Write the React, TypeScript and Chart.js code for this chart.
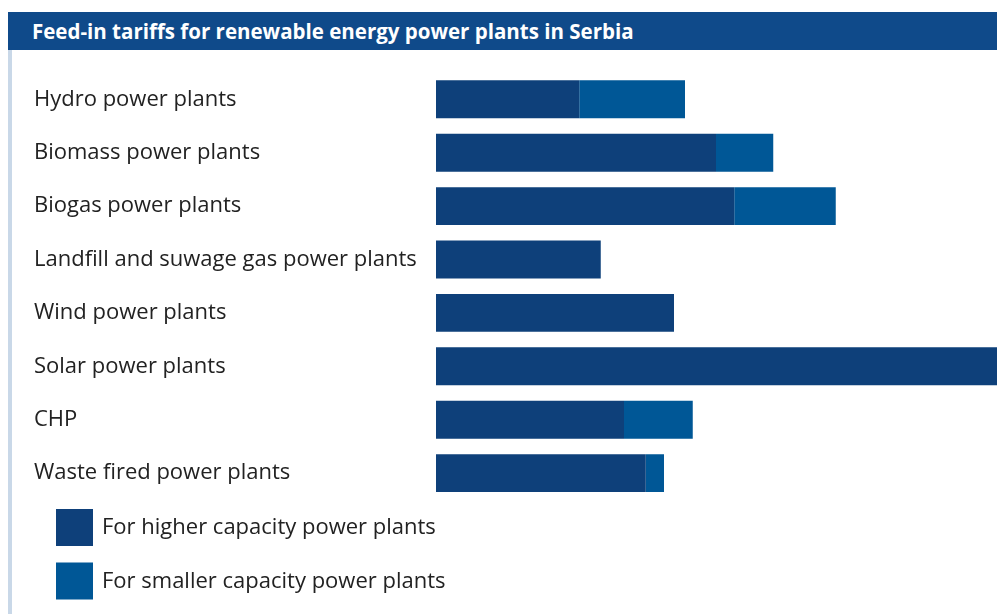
import React, { useEffect, useRef } from "react";
import { Chart, registerables } from "chart.js";

Chart.register(...registerables);

const chartTitle = "Feed-in tariffs for renewable energy power plants in Serbia";
const categories = [
  "Hydro power plants",
  "Biomass power plants",
  "Biogas power plants",
  "Landfill and suwage gas power plants",
  "Wind power plants",
  "Solar power plants",
  "CHP",
  "Waste fired power plants",
];
const seriesLabels = ["For higher capacity power plants", "For smaller capacity power plants"];
// tariff for higher capacity plants
const higherCapacity = [5.73, 11.2, 11.93, 6.59, 9.52, 23, 7.52, 8.39];
// additional amount for smaller capacity plants (stacked on top)
const smallerCapacityExtra = [4.23, 2.29, 4.06, 0, 0, 0, 2.75, 0.73];
const axisMax = 22.44;

const DARK = "#0e407a";
const LIGHT = "#005796";
const FONT = "'Open Sans', sans-serif";
const TEXT = "#222222";

const legendPlugin = {
  id: "stackedLegend",
  afterDraw(chart: any) {
    const ctx = chart.ctx;
    ctx.save();
    chart.data.datasets.forEach((ds: any, i: number) => {
      const y = 509 + i * 53.5;
      ctx.fillStyle = ds.backgroundColor;
      ctx.fillRect(56, y, 37, 37);
      ctx.fillStyle = TEXT;
      ctx.font = `22px ${FONT}`;
      ctx.textBaseline = "middle";
      ctx.textAlign = "left";
      ctx.fillText(ds.label, 102, y + 19);
    });
    ctx.restore();
  },
};

export default function App() {
  const ref = useRef<HTMLCanvasElement | null>(null);

  useEffect(() => {
    document.body.style.margin = "0";
    const chart = new Chart(ref.current as HTMLCanvasElement, {
      type: "bar",
      data: {
        labels: categories,
        datasets: [
          { label: seriesLabels[0], data: higherCapacity, backgroundColor: DARK, borderWidth: 0 },
          { label: seriesLabels[1], data: smallerCapacityExtra, backgroundColor: LIGHT, borderWidth: 0 },
        ],
      },
      options: {
        indexAxis: "y",
        responsive: false,
        animation: false,
        layout: { padding: { left: 34, right: 0, top: 72.6, bottom: 114.2 } },
        plugins: { legend: { display: false }, tooltip: { enabled: false }, title: { display: false } },
        datasets: { bar: { categoryPercentage: 1, barPercentage: 0.71 } },
        scales: {
          x: { display: false, stacked: true, min: 0, max: axisMax },
          y: {
            stacked: true,
            grid: { display: false },
            border: { display: false },
            ticks: {
              crossAlign: "far",
              autoSkip: false,
              color: TEXT,
              font: { family: FONT, size: 22 },
              padding: 0,
            },
            afterFit(scale: any) {
              scale.width = 402;
            },
          },
        },
      } as any,
      plugins: [legendPlugin],
    });
    return () => chart.destroy();
  }, []);

  return (
    <div style={{ position: "fixed", left: 0, top: 0, width: 997, height: 614, background: "#fff", overflow: "hidden" }}>
      <canvas ref={ref} width={997} height={614} style={{ position: "absolute", left: 0, top: 0 }} />
      <div
        style={{
          position: "absolute",
          left: 8,
          top: 12,
          width: 989,
          height: 38,
          background: "#0f4a8a",
          color: "#fff",
          fontFamily: FONT,
          fontWeight: 700,
          fontSize: 20.5,
          lineHeight: "38px",
          paddingLeft: 24,
          boxSizing: "border-box",
          whiteSpace: "nowrap",
        }}
      >
        {chartTitle}
      </div>
      <div style={{ position: "absolute", left: 8, top: 50, width: 4, height: 564, background: "#c9d8e8" }} />
    </div>
  );
}
